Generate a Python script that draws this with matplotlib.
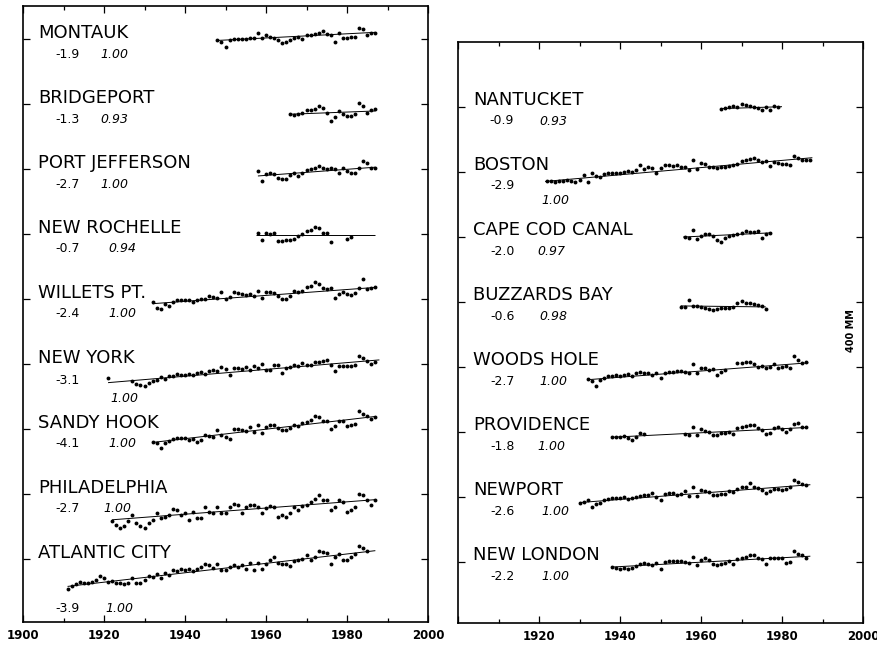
import numpy as np
import matplotlib
matplotlib.use("Agg")
import matplotlib.pyplot as plt

# ---------------- data (annual mean sea level, mm, relative to station baseline) ----------------
montauk_start = 1948
montauk = [-2, -16, -46, -2, 0, 0, 2, 4, 10, 8, 38, 8, 28, 18, 10, -6, -22, -14, -6, 10,
           18, 4, 28, 28, 34, 42, 54, 34, 26, -16, 40, 10, 6, 14, 18, 70, 66, 26, 38, 42]
bridgeport_start = 1966
bridgeport = [-60, -66, -60, -50, -34, -36, -30, -10, -20, -50, -100, -76, -40, -60, -70,
              -70, -60, 10, -10, -50, -36, -30]
portjeff_start = 1958
portjeff = [-10, -70, -30, -20, -30, -50, -60, -56, -36, -24, -40, -20, -4, 0, 10, 20, 10,
            4, 10, 0, -20, 10, -10, -20, -24, 10, 50, 40, 10, 10]
newrochelle_start = 1958
newrochelle = [8, -32, 8, 4, 8, -38, -38, -36, -32, -26, -12, 4, 22, 28, 48, 42, 12, 12, -46,
               None, None, None, -26, -18]
willets_start = 1932
willets = [-16, -50, -56, -26, -42, -16, -6, -2, -6, -2, -16, -6, 4, 4, 24, 14, 10, 44, 4, 14,
           44, 40, 34, 30, 34, 24, 50, 10, 44, 44, 38, 24, 0, 4, 24, 50, 44, 50, 78, 84,
           108, 98, 70, 64, 70, 8, 34, 44, 34, 30, 38, 70, 124, 64, 70, 78]
newyork_start = 1921
newyork = [-82, None, None, None, None, None, -102, -118, -126, -132, -112, -102, -98, -78, -92,
           -72, -72, -58, -62, -66, -58, -62, -52, -46, -58, -38, -32, -38, -16, -28, -62,
           -22, -22, -26, -18, -32, -12, -22, 2, -32, -32, -6, -2, -52, -22, -18, -6, -12, 8,
           -2, -2, 18, 18, 22, 28, -2, -42, -12, -12, -12, -8, -6, 54, 38, 22, 2, 18]
sandyhook_start = 1932
sandyhook = [-76, -82, -116, -82, -70, -56, -52, -52, -52, -66, -56, -76, -62, -36, -42, -46,
             -6, -36, -46, -56, 4, 4, -6, -10, 14, -16, 30, -20, 14, 30, 30, 10, -6, -2, 10,
             30, 24, 38, 44, 58, 84, 74, 50, 54, 4, 24, 54, 50, 24, 30, 34, 114, 94, 84, 64, 74]
philadelphia_start = 1922
philadelphia = [-166, -186, -206, -192, -166, -126, -176, -192, -206, -176, -156, -112, -146,
                -136, -126, -92, -96, -126, -116, -160, -106, -146, -146, -76, -106, -116, -76,
                -116, -116, -76, -56, -66, -112, -80, -66, -66, -80, -112, -86, -72, -76, -136,
                -126, -136, -116, -76, -96, -72, -66, -46, -26, -6, -36, -36, -96, -76, -36,
                -46, -106, -96, -80, 4, -6, -36, -66, -32]
atlantic_start = 1911
atlantic = [-182, -166, -150, -136, -142, -146, -136, -126, -102, -116, -136, -132, -146, -142,
            -150, -142, -116, -146, -142, -126, -102, -106, -90, -116, -82, -96, -66, -70, -56,
            -66, -56, -70, -56, -46, -30, -36, -50, -26, -62, -66, -46, -36, -46, -36, -56,
            -22, -62, -20, -56, -26, -2, 14, -22, -26, -30, -42, -10, -2, 4, 30, -2, 14, 54,
            44, 38, -26, 14, 34, -2, -2, 14, 34, 84, 70, 54]

nantucket_start = 1965
nantucket = [-14, -8, 2, 6, -2, 18, 12, 6, -2, -8, -18, -2, -18, 6, -2]
boston_start = 1922
boston = [-58, -58, -64, -58, -54, -48, -58, -64, -48, -18, -64, -8, -24, -28, -12, -8, -4, -4,
          -4, 2, 6, 2, 12, 42, 16, 32, 22, -4, 22, 42, 42, 38, 42, 32, 32, 12, 76, 16, 56, 52,
          32, 28, 22, 28, 32, 36, 42, 52, 66, 72, 82, 88, 72, 62, 68, 36, 62, 56, 48, 52, 42,
          96, 88, 76, 72, 76]
capecod_start = 1956
capecod = [0, -8, 42, -14, 6, 20, 16, 6, -20, -28, -4, 6, 12, 16, 26, 36, 32, 30, 40, -4, 16, 26]
buzzards_start = 1955
buzzards = [-28, -32, 12, -24, -24, -28, -38, -44, -52, -44, -38, -38, -36, -32, -8, 8, -8, -8,
            -12, -18, -24, -44]
woodshole_start = 1932
woodshole = [-74, -88, -118, -78, -68, -58, -54, -48, -54, -48, -42, -54, -38, -28, -34, -38,
             -48, -34, -68, -34, -28, -28, -22, -22, -28, -34, 16, -34, -8, -8, -18, -14, -48,
             -28, -18, None, None, 26, 26, 28, 32, 18, 2, 6, -4, 2, 18, -8, 2, 6, -8, 66, 42,
             26, 32]
providence_start = 1938
providence = [-32, -32, -28, -24, -38, -52, -28, -8, -14, None, None, None, None, None, None,
              None, None, None, -14, -18, 32, -18, 16, 8, 2, -18, -18, -8, -4, 2, -14, 22, 28,
              36, 42, 42, 22, 12, -14, -8, 22, 28, 16, 2, 16, 52, 56, 28, 32]
newport_start = 1930
newport = [-34, -28, -20, -60, -40, -34, -20, -14, -8, -4, -4, 0, -14, -8, 0, 6, 10, 12, 26, 0,
           -18, 20, 26, 26, 12, 16, 36, 6, 60, 6, 46, 40, 32, 12, 12, 20, 20, 36, 32, 52, 60,
           60, 86, 60, 56, 46, 26, 36, 52, 52, 46, 52, 60, 106, 92, 80, 76]
newlondon_start = 1938
newlondon = [-30, -38, -44, -34, -44, -38, -24, -10, -4, -14, -18, -4, -44, 2, 6, 6, 6, 6, 2,
             -4, 30, -18, 10, 22, 10, -10, -18, -10, -4, 6, -10, 16, 26, 30, 42, 46, 26, 16,
             -14, 26, 26, 22, 22, -4, 0, 66, 50, 42, 22]

# station labels
left_names = ["MONTAUK", "BRIDGEPORT", "PORT JEFFERSON", "NEW ROCHELLE", "WILLETS PT.",
              "NEW YORK", "SANDY HOOK", "PHILADELPHIA", "ATLANTIC CITY"]
left_rates = ["-1.9", "-1.3", "-2.7", "-0.7", "-2.4", "-3.1", "-4.1", "-2.7", "-3.9"]
left_corr = ["1.00", "0.93", "1.00", "0.94", "1.00", "1.00", "1.00", "1.00", "1.00"]
right_names = ["NANTUCKET", "BOSTON", "CAPE COD CANAL", "BUZZARDS BAY", "WOODS HOLE",
               "PROVIDENCE", "NEWPORT", "NEW LONDON"]
right_rates = ["-0.9", "-2.9", "-2.0", "-0.6", "-2.7", "-1.8", "-2.6", "-2.2"]
right_corr = ["0.93", "1.00", "0.97", "0.98", "1.00", "1.00", "1.00", "1.00"]

left_series = [montauk, bridgeport, portjeff, newrochelle, willets, newyork, sandyhook,
               philadelphia, atlantic]
left_starts = [montauk_start, bridgeport_start, portjeff_start, newrochelle_start, willets_start,
               newyork_start, sandyhook_start, philadelphia_start, atlantic_start]
right_series = [nantucket, boston, capecod, buzzards, woodshole, providence, newport, newlondon]
right_starts = [nantucket_start, boston_start, capecod_start, buzzards_start, woodshole_start,
                providence_start, newport_start, newlondon_start]

# trend lines (start year, end year) and (start value, end value), mm
left_trend_years = [(1948, 1987), (1966, 1987), (1958, 1987), (1957.5, 1987), (1932, 1987),
                    (1921, 1988), (1932, 1987), (1922, 1987), (1911, 1987)]
left_trend_vals = [(-6, 44), (-60, -40), (-40, 14), (-2, -2), (-26, 74), (-112, 28),
                   (-80, 80), (-156, -32), (-166, 54)]
right_trend_years = [(1965, 1980), (1921.5, 1987.5), (1955.6, 1977.5), (1955, 1976),
                     (1932, 1986.5), (1938, 1986), (1930, 1987), (1938.5, 1987)]
right_trend_vals = [(-10, 2), (-58, 88), (0, 26), (-24, -30), (-78, 26), (-32, 28),
                    (-34, 76), (-30, 36)]

year_ticks = [1900, 1920, 1940, 1960, 1980, 2000]
LEVEL_STEP = 400  # mm between successive station baselines

# ---------------- layout ----------------
plt.rcParams['font.family'] = ['DejaVu Sans']
fig = plt.figure(figsize=(8.78, 6.45), dpi=100)
W, H = 878, 645
axL = fig.add_axes([23 / W, 23 / H, 405 / W, 616 / H])
axR = fig.add_axes([458 / W, 22 / H, 405 / W, 581 / H])

# text layout (years for x, mm offsets relative to baseline)
left_rate_pos = [(1907.9, -111)] * 5 + [(1907.9, -123)] + [(1907.9, -111)] * 2 + [(1907.9, -326)]
left_corr_pos = [(1919.0, -111), (1919.0, -111), (1919.0, -111), (1921.0, -111),
                 (1921.0, -111), (1921.5, -228), (1921.0, -111), (1919.8, -111), (1920.3, -326)]
right_rate_pos = [(1907.8, -105), (1908.0, -105)] + [(1908.0, -111)] * 6
right_corr_pos = [(1920.2, -111), (1920.7, -197), (1919.5, -111), (1920.2, -111),
                  (1920.2, -111), (1919.5, -111), (1920.7, -111), (1920.7, -111)]


def draw_station(ax, level, vals, start, tyears, tvals, name, rate, corr, rpos, cpos):
    v = np.array([np.nan if x is None else x for x in vals], dtype=float)
    yrs = np.arange(start, start + len(v))
    ax.plot(list(tyears), [level + tvals[0], level + tvals[1]], color='black', lw=0.7,
            solid_capstyle='butt')
    ax.plot(yrs, level + v, linestyle='none', marker='o', ms=2.8, mfc='black',
            mec='black', mew=0)
    ax.text(1903.8, level + 10, name, fontsize=13, ha='left', va='baseline')
    ax.text(rpos[0], level + rpos[1], rate, fontsize=9, ha='left', va='baseline')
    ax.text(cpos[0], level + cpos[1], corr, fontsize=9, ha='left', va='baseline',
            style='italic')


for k in range(9):
    draw_station(axL, -LEVEL_STEP * k, left_series[k], left_starts[k], left_trend_years[k],
                 left_trend_vals[k], left_names[k], left_rates[k], left_corr[k],
                 left_rate_pos[k], left_corr_pos[k])
for k in range(8):
    draw_station(axR, -LEVEL_STEP * (k + 1), right_series[k], right_starts[k],
                 right_trend_years[k], right_trend_vals[k], right_names[k], right_rates[k],
                 right_corr[k], right_rate_pos[k], right_corr_pos[k])

axL.set_ylim(-3585, 206)
axR.set_ylim(-3575, 0)
axL.set_yticks([-LEVEL_STEP * k for k in range(9)])
axR.set_yticks([-LEVEL_STEP * k for k in range(1, 9)])

for ax in (axL, axR):
    ax.set_xlim(1900, 2000)
    ax.set_xticks(year_ticks)
    ax.set_xticks(list(range(1910, 2000, 20)), minor=True)
    ax.set_yticklabels([])
    ax.tick_params(which='both', direction='in', top=True, right=True, width=0.9)
    ax.tick_params(which='major', length=5, pad=5)
    ax.tick_params(which='minor', length=3)
    for s in ax.spines.values():
        s.set_linewidth(1.2)
    for lab in ax.get_xticklabels():
        lab.set_fontweight('bold')
        lab.set_fontsize(8.5)

axR.set_xticklabels([''] + [str(y) for y in year_ticks[1:]], fontweight='bold', fontsize=8.5)

fig.text(851 / W, 1 - 331 / H, '400 MM', rotation=90, ha='center', va='center',
         fontsize=7, fontweight='bold')

fig.savefig('out.png', dpi=100, facecolor='white')
